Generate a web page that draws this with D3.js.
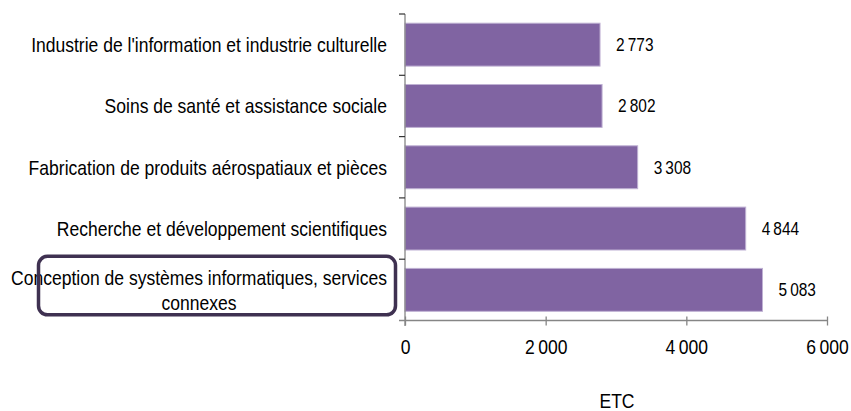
<!DOCTYPE html>
<html>
<head>
<meta charset="utf-8">
<script src="https://cdn.jsdelivr.net/npm/d3@7"></script>
<style>
  html, body { margin: 0; padding: 0; background: #fff; }
  svg text { font-family: "Liberation Sans", Arial, sans-serif; fill: #000; }
</style>
</head>
<body>
<svg id="chart" width="851" height="411"></svg>
<script>
// Emplois (ETC) par secteur, du haut vers le bas
const categories = [
  "Industrie de l'information et industrie culturelle",
  "Soins de santé et assistance sociale",
  "Fabrication de produits aérospatiaux et pièces",
  "Recherche et développement scientifiques",
  "Conception de systèmes informatiques, services connexes"
];
const categoryLines = [
  ["Industrie de l'information et industrie culturelle"],
  ["Soins de santé et assistance sociale"],
  ["Fabrication de produits aérospatiaux et pièces"],
  ["Recherche et développement scientifiques"],
  ["Conception de systèmes informatiques, services", "connexes"]
];
const values = [2773, 2802, 3308, 4844, 5083];
const xTicks = [0, 2000, 4000, 6000];
const axisTitle = "ETC";
const highlighted = 4;

// Condensed lettering: regular sans squeezed horizontally
const SQUEEZE = 0.835;
const fmt = v => d3.format(",")(v).replace(/,/g, "\u2009");

const svg = d3.select("#chart");
const x = d3.scaleLinear().domain([0, 6000]).range([405, 827]);
const y = d3.scaleBand().domain(categories).range([14, 320.5])
  .paddingInner(0.3).paddingOuter(0.15);

const axisColor = "#868686";

function label(parent, px, py, str, size, anchor) {
  return parent.append("g")
    .attr("transform", `translate(${px},${py}) scale(${SQUEEZE},1)`)
    .append("text")
    .attr("text-anchor", anchor || "start")
    .attr("font-size", size + "px")
    .text(str);
}

// Bars
svg.append("g").selectAll("rect").data(categories).join("rect")
  .attr("x", x(0))
  .attr("y", d => y(d))
  .attr("width", (d, i) => x(values[i]) - x(0))
  .attr("height", y.bandwidth())
  .attr("fill", "#8064A2")
  .attr("stroke", "#BFB1D3")
  .attr("stroke-width", 1);

// Value labels
const gv = svg.append("g");
categories.forEach((c, i) => {
  label(gv, x(values[i]) + 16, y(c) + y.bandwidth() / 2 + 6.5, fmt(values[i]), 18.5);
});

// Category axis: line and boundary ticks
const step = y.step();
const bounds = d3.range(categories.length).map(i => 14 + i * step);
const gy = svg.append("g");
gy.append("line").attr("x1", 405).attr("x2", 405).attr("y1", 14).attr("y2", 326)
  .attr("stroke", axisColor).attr("stroke-width", 1.3);
gy.selectAll("line.t").data(bounds).join("line").attr("class", "t")
  .attr("x1", 399).attr("x2", 405).attr("y1", d => d).attr("y2", d => d)
  .attr("stroke", "#333").attr("stroke-width", 1.2);

// Value axis
const gx = svg.append("g").attr("transform", "translate(0,320.5)")
  .call(d3.axisBottom(x).tickValues(xTicks).tickSize(5).tickPadding(14).tickFormat(fmt));
gx.select(".domain").attr("stroke", axisColor).attr("stroke-width", 1.3)
  .attr("d", `M${x(0) - 6},0H${x(6000)}`);
gx.selectAll(".tick line").attr("stroke", axisColor).attr("stroke-width", 1.3).attr("y1", -4);
gx.selectAll(".tick text").attr("font-size", "21px").attr("fill", "#000")
  .attr("font-family", null).attr("transform", `scale(${SQUEEZE},1)`);

// Category labels
const gl = svg.append("g");
categories.forEach((c, i) => {
  const lines = categoryLines[i];
  const cy = y(c) + y.bandwidth() / 2;
  if (lines.length === 1) {
    label(gl, 387, cy + 7.5, lines[0], 21, "end");
  } else {
    lines.forEach((l, k) => {
      label(gl, 199, cy + 7.5 - 12.5 + k * 25, l, 21, "middle");
    });
  }
});

// Axis title
label(svg, 617, 407.5, axisTitle, 21, "middle");

// Highlight frame around the leading sector
const hy = y(categories[highlighted]) + y.bandwidth() / 2;
svg.append("rect")
  .attr("x", 38.5).attr("y", hy - 33.5).attr("width", 357).attr("height", 58.5)
  .attr("rx", 9).attr("ry", 9)
  .attr("fill", "none").attr("stroke", "#3F3151").attr("stroke-width", 3.5);
</script>
</body>
</html>
